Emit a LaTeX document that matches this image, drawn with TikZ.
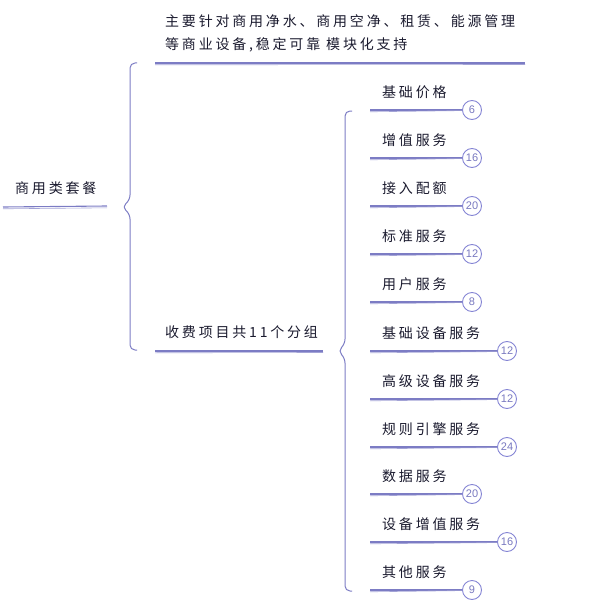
\documentclass[tikz,border=0pt]{standalone}
\usepackage{fontspec}
\newfontfamily\cjk[LetterSpace=20]{Noto Sans CJK SC}
\newfontfamily\numf{Liberation Sans}
\definecolor{linec}{HTML}{7C7CC4}
\definecolor{circc}{HTML}{8585D4}
\definecolor{txtc}{HTML}{1A1A2E}
\begin{document}
\begin{tikzpicture}[x=1pt,y=-1pt,
  lbl/.style={anchor=west,inner sep=0pt,font=\cjk\fontsize{14}{23}\selectfont,text=txtc},
  ul/.style={draw=linec,line width=1.1pt},
  ul2/.style={draw=linec!70,line width=0.6pt},
  brace/.style={draw=linec,line width=1pt,rounded corners=5pt},
  num/.style={circle,draw=circc,line width=0.9pt,minimum size=19pt,inner sep=0pt,font=\numf\fontsize{11}{12}\selectfont,text=circc!90!black}]
\useasboundingbox (0,0) rectangle (608,602);
% root
\node[lbl] (root) at (15,188) {商用类套餐};
\coordinate (rootA) at (3,207);
\coordinate (rootB) at (107,206);
\draw[ul] (rootA) -- (rootB);
\draw[ul2] ([yshift=-1.8pt]rootA) -- ([yshift=-1.8pt]rootB);
% main brace
\draw[brace] (137,63) -- (130,63) -- (130,200) -- (122,207) -- (130,214) -- (130,350) -- (137,350);
% branch 1
\node[lbl,align=left] (b1) at (165,33) {主要针对商用净水、商用空净、租赁、能源管理\\等商业设备,稳定可靠 模块化支持};
\coordinate (b1A) at (155,63);
\coordinate (b1B) at (525,63);
\draw[ul] (b1A) -- (b1B);
\draw[ul2] ([yshift=-1.8pt]b1A) -- ([yshift=-1.5pt]b1B);
% branch 2
\node[lbl] (b2) at (165,332) {收费项目共11个分组};
\coordinate (b2A) at (155,351);
\coordinate (b2B) at (323,351);
\draw[ul] (b2A) -- (b2B);
\draw[ul2] ([yshift=-1.8pt]b2A) -- ([yshift=-1.5pt]b2B);
% second brace
\draw[brace] (352,111) -- (345,111) -- (345,344) -- (338,351) -- (345,358) -- (345,591) -- (352,591);
% leaves
\foreach \i/\t/\y/\cx/\n in {1/基础价格/110/472/6, 2/增值服务/158/472/16, 3/接入配额/206/472/20, 4/标准服务/254/472/12, 5/用户服务/302/472/8, 6/基础设备服务/351/507/12, 7/高级设备服务/399/507/12, 8/规则引擎服务/447/507/24, 9/数据服务/494/472/20, 10/设备增值服务/542/507/16, 11/其他服务/590/472/9}{
  \node[lbl] (leaf\i) at (382,\y-18) {\t};
  \node[num] (c\i) at (\cx,\y) {\n};
  \coordinate (s\i) at (370,\y);
  \draw[ul] (s\i) -- (c\i.west);
  \draw[ul2] ([yshift=-1.8pt]s\i) -- ([yshift=-0.6pt]c\i.west);
}
\end{tikzpicture}
\end{document}
